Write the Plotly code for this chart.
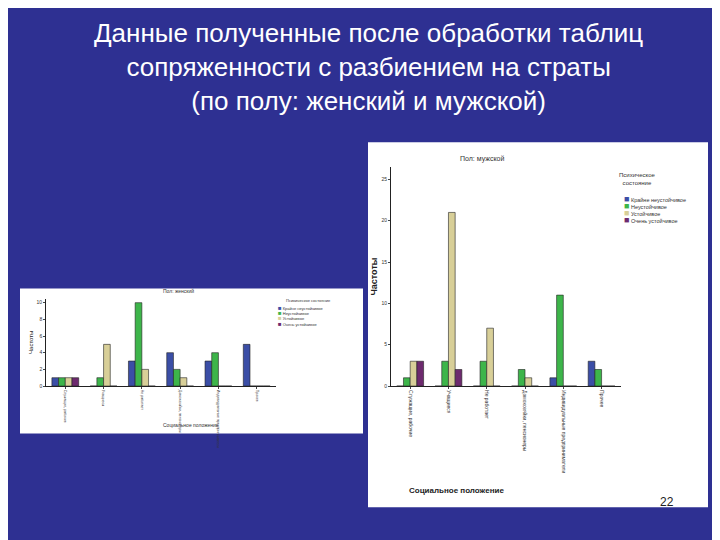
import plotly.graph_objects as go

categories = ["Служащие, рабочие", "Учащиеся", "Не работает", "Домохозяйки, пенсионеры",
              "Индивидуальные предприниматели", "Прочее"]
series = ["Крайне неустойчивое", "Неустойчивое", "Устойчивое", "Очень устойчивое"]
colors = ["#3b4ea6", "#3db54a", "#d8cf98", "#6d2a6e"]

female = [
    [1, 0, 3, 4, 3, 5],
    [1, 1, 10, 2, 4, 0],
    [1, 5, 2, 1, 0, 0],
    [1, 0, 0, 0, 0, 0],
]
male = [
    [0, 0, 0, 0, 1, 3],
    [1, 3, 3, 2, 11, 2],
    [3, 21, 7, 1, 0, 0],
    [3, 2, 0, 0, 0, 0],
]

fig = go.Figure()
for i, name in enumerate(series):
    fig.add_trace(go.Bar(x=categories, y=female[i], name=name, marker_color=colors[i],
                         marker_line=dict(color="#222", width=0.6), showlegend=False,
                         xaxis="x", yaxis="y"))
    fig.add_trace(go.Bar(x=categories, y=male[i], name=name, marker_color=colors[i],
                         marker_line=dict(color="#222", width=0.6), showlegend=False,
                         xaxis="x2", yaxis="y2"))

ax = dict(showgrid=False, linecolor="#222", ticks="outside", ticklen=2,
          tickfont=dict(size=5, color="#333"), tickangle=90)
ay = dict(showgrid=False, linecolor="#222", ticks="outside", ticklen=2,
          tickfont=dict(size=5, color="#333"), zeroline=False)


def legend_text(size_px):
    return "<br>".join(f"<span style='color:{c};font-size:{size_px}px'>■</span> {s}"
                       for s, c in zip(series, colors))


fig.update_layout(
    width=720, height=540, margin=dict(l=0, r=0, t=0, b=0),
    paper_bgcolor="#2e3092", plot_bgcolor="#efefef",
    barmode="group", bargap=0.3, bargroupgap=0,
    font=dict(family="Liberation Sans"),
    xaxis=dict(ax, domain=[0.053, 0.372], anchor="y", tickfont=dict(size=3.5, color="#333")),
    yaxis=dict(ay, domain=[0.296, 0.459], anchor="x", range=[0, 10.5], dtick=2,
               title=dict(text="Частоты", font=dict(size=6, color="#222"), standoff=2)),
    xaxis2=dict(ax, domain=[0.532, 0.851], anchor="y2"),
    yaxis2=dict(ay, domain=[0.296, 0.704], anchor="x2", range=[0, 26.5], dtick=5,
                title=dict(text="<b>Частоты</b>", font=dict(size=9, color="#222"), standoff=2)),
    shapes=[
        dict(type="rect", xref="paper", yref="paper", x0=12/720, x1=355/720,
             y0=1-428/540, y1=1-282/540, fillcolor="white", line_width=0, layer="below"),
        dict(type="rect", xref="paper", yref="paper", x0=360/720, x1=700/720,
             y0=1-502/540, y1=1-135/540, fillcolor="white", line_width=0, layer="below"),
    ],
    annotations=[
        dict(text="Данные полученные после обработки таблиц<br>сопряженности с разбиением на страты<br>(по полу: женский и мужской)",
             x=0.5, y=0.985, xref="paper", yref="paper", yanchor="top", showarrow=False,
             font=dict(size=26, color="white", family="Liberation Sans")),
        dict(text="Пол: женский", x=0.2125, y=0.463, xref="paper", yref="paper", yanchor="bottom",
             showarrow=False, font=dict(size=5, color="#333")),
        dict(text="Пол: мужской", x=0.6915, y=0.708, xref="paper", yref="paper", yanchor="bottom",
             showarrow=False, font=dict(size=7, color="#333")),
        dict(text="Социальное положение", x=0.2125, y=1-424/540, xref="paper", yref="paper",
             yanchor="bottom", showarrow=False, font=dict(size=5, color="#333")),
        dict(text="<b>Социальное положение</b>", x=0.6915, y=1-492/540, xref="paper", yref="paper",
             yanchor="bottom", showarrow=False, font=dict(size=8, color="#222")),
        dict(text="Психическое состояние", x=300/720, y=1-290/540, xref="paper", yref="paper",
             yanchor="top", showarrow=False, font=dict(size=4, color="#333")),
        dict(text=legend_text(6), x=268/720, y=1-297/540, xref="paper", yref="paper",
             xanchor="left", yanchor="top", align="left", showarrow=False,
             font=dict(size=4, color="#333")),
        dict(text="Психическое<br>состояние", x=650/720, y=1-163/540, xref="paper", yref="paper",
             yanchor="top", showarrow=False, font=dict(size=6, color="#333")),
        dict(text=legend_text(9), x=614/720, y=1-185/540, xref="paper", yref="paper",
             xanchor="left", yanchor="top", align="left", showarrow=False,
             font=dict(size=5.5, color="#333")),
        dict(text="22", x=668/720, y=1-506/540, xref="paper", yref="paper", showarrow=False,
             font=dict(size=12, color="#222")),
    ],
)

fig.write_html("out.html")
